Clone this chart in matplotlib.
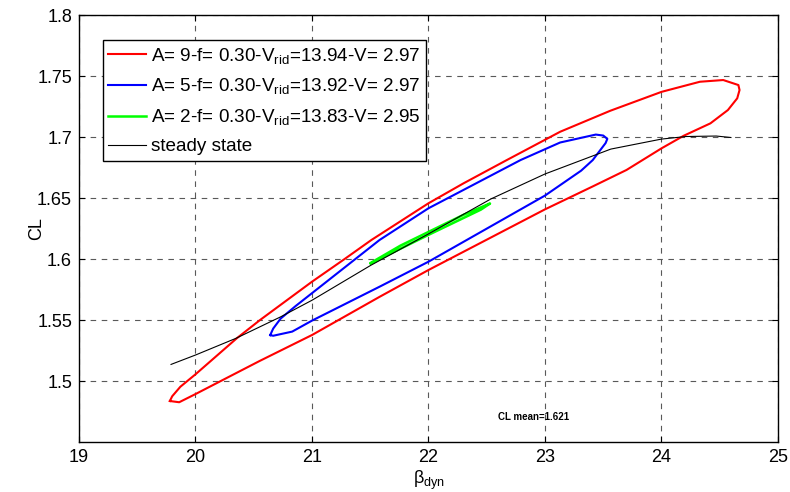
import matplotlib
matplotlib.use("Agg")
import matplotlib.pyplot as plt

plt.rcParams["font.family"] = ["Liberation Sans", "DejaVu Sans"]
plt.rcParams["mathtext.fontset"] = "custom"
plt.rcParams["mathtext.rm"] = "Liberation Sans"
plt.rcParams["mathtext.it"] = "Liberation Sans"
plt.rcParams["mathtext.bf"] = "Liberation Sans:bold"

# Hysteresis loops (beta_dyn, CL) for each oscillation amplitude
red_beta = [19.78, 19.80, 19.87, 20.0, 20.354, 20.554, 21.0, 21.28, 21.51, 22.0, 22.30,
            22.67, 23.13, 23.56, 24.0, 24.33, 24.53, 24.66, 24.67, 24.65, 24.57,
            24.42, 24.19, 24.0, 23.70, 23.41, 23.0, 22.0, 21.58, 21.0, 20.55,
            20.0, 19.86, 19.78]
red_cl = [1.4836, 1.4875, 1.4953, 1.5055, 1.535, 1.55, 1.5814, 1.60, 1.6156, 1.6457, 1.662,
          1.681, 1.7043, 1.7215, 1.737, 1.7453, 1.7467, 1.7426, 1.7385, 1.7317, 1.7221,
          1.7112, 1.701, 1.6907, 1.673, 1.6595, 1.6407, 1.591, 1.569, 1.5377, 1.5164,
          1.4893, 1.4826, 1.4836]

blue_beta = [20.641, 20.667, 20.731, 20.86, 21.0, 21.58, 22.0, 22.79, 23.13, 23.436, 23.50,
             23.535, 23.52, 23.47, 23.41, 23.31, 23.0, 22.0, 21.58, 21.0, 20.83, 20.667, 20.641]
blue_cl = [1.5376, 1.5430, 1.5512, 1.5615, 1.572, 1.6156, 1.6416, 1.6811, 1.6955, 1.702, 1.7012,
           1.6985, 1.695, 1.6887, 1.6811, 1.6724, 1.652, 1.5978, 1.5773, 1.5495, 1.5405, 1.5371, 1.5376]

green_beta = [21.504, 21.76, 22.0, 22.30, 22.528, 22.45, 22.20, 22.0, 21.76, 21.504]
green_cl = [1.5968, 1.6110, 1.6222, 1.6362, 1.6455, 1.6405, 1.6290, 1.6198, 1.6085, 1.5961]

# Steady-state CL curve
steady_beta = [19.79, 20.0, 20.345, 20.731, 21.0, 21.504, 22.0, 22.535, 23.0, 23.565,
               24.0, 24.21, 24.47, 24.596]
steady_cl = [1.5136, 1.5213, 1.5349, 1.5526, 1.5662, 1.5948, 1.6206, 1.6492, 1.6697, 1.6901,
             1.6983, 1.7004, 1.7008, 1.6996]

labels = [r"A= 9-f= 0.30-V$_{rid}$=13.94-V= 2.97",
          r"A= 5-f= 0.30-V$_{rid}$=13.92-V= 2.97",
          r"A= 2-f= 0.30-V$_{rid}$=13.83-V= 2.95",
          "steady state"]
cl_mean = 1.621

x_ticks = [19, 20, 21, 22, 23, 24, 25]
y_ticks = [1.5, 1.55, 1.6, 1.65, 1.7, 1.75, 1.8]
y_tick_labels = ["1.5", "1.55", "1.6", "1.65", "1.7", "1.75", "1.8"]

fig = plt.figure(figsize=(7.9, 4.92), dpi=100)
ax = fig.add_axes([0.1, 0.1016, 0.8848, 0.8679])

ax.plot(red_beta, red_cl, color="#ff0000", lw=1.5, label=labels[0])
ax.plot(blue_beta, blue_cl, color="#0000ff", lw=1.5, label=labels[1])
ax.plot(green_beta, green_cl, color="#00ff00", lw=1.8, label=labels[2])
ax.plot(steady_beta, steady_cl, color="black", lw=0.8, label=labels[3])

ax.set_xlim(19, 25)
ax.set_ylim(1.45, 1.8)
ax.set_xticks(x_ticks)
ax.set_xticklabels([str(t) for t in x_ticks])
ax.set_yticks(y_ticks)
ax.set_yticklabels(y_tick_labels)
ax.tick_params(direction="in", length=4, width=0.8, labelsize=13,
               top=True, right=True, pad=5)
ax.grid(True, color="0.35", linestyle=(0, (5, 5)), linewidth=0.8)
for s in ax.spines.values():
    s.set_linewidth(1.0)

ax.set_xlabel(r"$\beta_{dyn}$", fontsize=13, labelpad=2)
ax.set_ylabel("CL", fontsize=13)
ax.yaxis.set_label_coords(-0.049, 0.5)

ax.text(22.6, 1.4705, f"CL mean={cl_mean}", fontsize=7, fontweight="bold",
        va="center", ha="left")

leg = ax.legend(loc="upper left", bbox_to_anchor=(0.034, 0.9415), borderaxespad=0,
                fontsize=13.6, fancybox=False, framealpha=1, edgecolor="black",
                handlelength=2.0, handletextpad=0.25, labelspacing=0.57,
                borderpad=0.3)
leg.get_frame().set_linewidth(1.0)

fig.savefig("out.png", dpi=100)
